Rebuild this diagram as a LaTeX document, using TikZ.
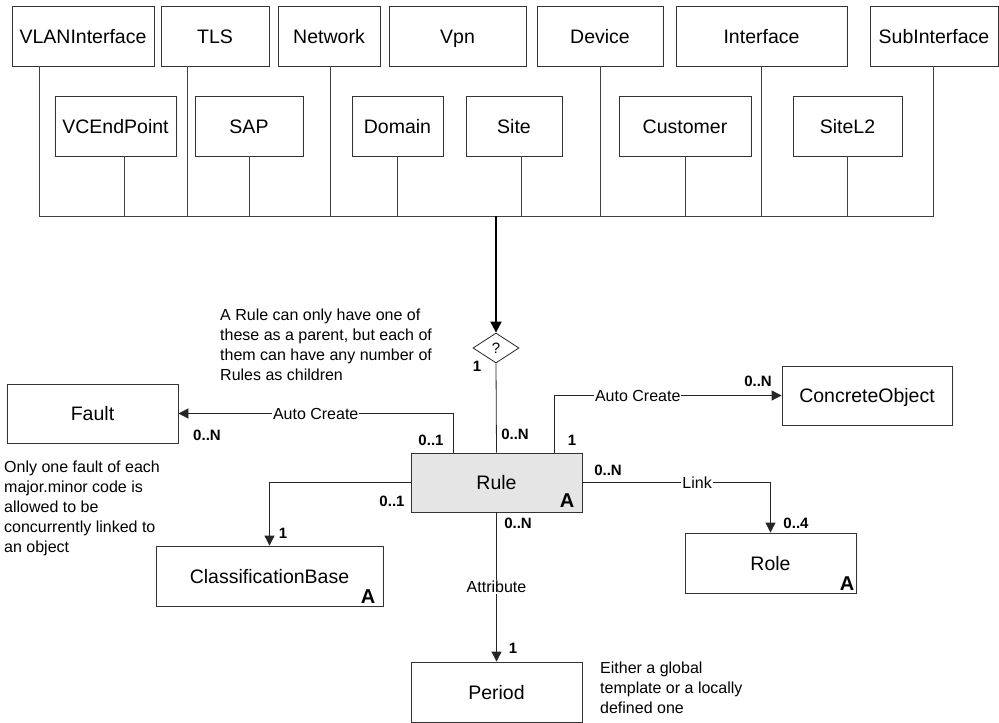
\documentclass[tikz,border=0pt]{standalone}
\usepackage{fontspec}
\setmainfont{Liberation Sans}
\usetikzlibrary{arrows.meta,shapes.geometric}
\begin{document}
\begin{tikzpicture}[x=1pt,y=-1pt,
  box/.style={draw=black!80, line width=0.8pt, inner sep=0pt, minimum height=60pt,
    text height=14pt, text depth=0pt, font=\fontsize{19.5}{23}\selectfont},
  amark/.style={font=\fontsize{20}{24}\selectfont\bfseries, inner sep=0pt, anchor=south east},
  bus/.style={draw=black!75, line width=0.8pt},
  assoc/.style={draw=black!85, line width=0.8pt, -{Triangle[length=10pt,width=10pt]}},
  plain/.style={draw=black!85, line width=0.8pt},
  mult/.style={font=\fontsize{15}{18}\selectfont\bfseries, inner sep=0pt},
  lbl/.style={font=\fontsize{16}{19}\selectfont, fill=white, inner sep=1pt},
  note/.style={font=\fontsize{16}{20}\selectfont, align=left, inner sep=0pt, anchor=north west}
]
\useasboundingbox (0,0) rectangle (999,723);

% parent classes, upper row
\node[box, minimum width=142pt] (vlan)    at (83,36)    {VLANInterface};
\node[box, minimum width=108pt] (tls)     at (215,36)   {TLS};
\node[box, minimum width=102pt] (network) at (329,36)   {Network};
\node[box, minimum width=137pt] (vpn)     at (457.5,36) {Vpn};
\node[box, minimum width=126pt] (device)  at (600,36)   {Device};
\node[box, minimum width=171pt] (iface)   at (761.5,36) {Interface};
\node[box, minimum width=128pt] (subif)   at (934,36)   {SubInterface};

% parent classes, lower row
\node[box, minimum width=121pt] (vcep)     at (115.5,126) {VCEndPoint};
\node[box, minimum width=108pt] (sap)      at (249,126)   {SAP};
\node[box, minimum width=91pt]  (domain)   at (397.5,126) {Domain};
\node[box, minimum width=96pt]  (site)     at (514,126)   {Site};
\node[box, minimum width=132pt] (customer) at (685,126)   {Customer};
\node[box, minimum width=109pt] (sitel2)   at (847.5,126) {SiteL2};

% collecting bus
\coordinate (hub) at (496,216);
\draw[bus] ([xshift=-44pt]vlan.south) |- ([xshift=-1pt]subif.south |- hub) -- ([xshift=-1pt]subif.south);
\draw[bus] ([xshift=-28pt]tls.south) -- ([xshift=-28pt]tls.south |- hub);
\draw[bus] ([xshift=1pt]network.south) -- ([xshift=1pt]network.south |- hub);
\draw[bus] (device.south) -- (device.south |- hub);
\draw[bus] (iface.south) -- (iface.south |- hub);
\draw[bus] ([xshift=8.5pt]vcep.south) -- ([xshift=8.5pt]vcep.south |- hub);
\draw[bus] (sap.south) -- (sap.south |- hub);
\draw[bus] (domain.south) -- (domain.south |- hub);
\draw[bus] ([xshift=7pt]site.south) -- ([xshift=7pt]site.south |- hub);
\draw[bus] (customer.south) -- (customer.south |- hub);
\draw[bus] (sitel2.south) -- (sitel2.south |- hub);

% choice of parent
\node[diamond, draw=black!85, line width=0.8pt, minimum width=46pt, minimum height=30pt,
  inner sep=0pt, font=\fontsize{15}{18}\selectfont] (q) at (496,348) {?};
\draw[line width=2pt, -{Triangle[length=11pt,width=11pt]}] (hub) -- (q.north);

% classes around the rule
\node[box, minimum width=171pt, minimum height=59pt, fill=black!10] (rule) at (496.5,482.5) {Rule};
\node[amark] at ([xshift=-8pt,yshift=5pt]rule.south east) {A};
\node[box, minimum width=171pt, minimum height=59pt] (fault) at (92.5,413.5) {Fault};
\node[box, minimum width=170pt, minimum height=59pt] (concrete) at (867,395.5) {ConcreteObject};
\node[box, minimum width=171pt] (role) at (770.5,563) {Role};
\node[amark] at ([xshift=-2pt,yshift=3pt]role.south east) {A};
\node[box, minimum width=227pt] (cbase) at (269.5,576) {ClassificationBase};
\node[amark] at ([xshift=-8pt,yshift=3pt]cbase.south east) {A};
\node[box, minimum width=171pt] (period) at (496.5,692) {Period};

% associations
\draw[plain] (q.south) -- (rule.north);
\draw[assoc] ([xshift=-43.5pt]rule.north) |- (fault.east) node[lbl, pos=0.75] {Auto Create};
\draw[assoc] ([xshift=57.5pt]rule.north) |- (concrete.west) node[lbl, pos=0.684] {Auto Create};
\draw[assoc] (rule.east) -| (role.north) node[lbl, pos=0.305] {Link};
\draw[assoc] (rule.west) -| (cbase.north);
\draw[assoc] (rule.south) -- (period.north) node[lbl, pos=0.5] {Attribute};

% multiplicities
\node[mult] at (477,366) {1};
\node[mult] at (515,434) {0..N};
\node[mult] at (431,440) {0..1};
\node[mult] at (572,440) {1};
\node[mult] at (207,435) {0..N};
\node[mult] at (758,381) {0..N};
\node[mult] at (608,470) {0..N};
\node[mult] at (796,523) {0..4};
\node[mult] at (392,501) {0..1};
\node[mult] at (283,533) {1};
\node[mult] at (518,523) {0..N};
\node[mult] at (513,648) {1};

% notes
\node[note] (parentnote) at (220,309) {A Rule can only have one of\\these as a parent, but each of\\them can have any number of\\Rules as children};
\node[note] (faultnote) at (4,461) {Only one fault of each\\major.minor code is\\allowed to be\\concurrently linked to\\an object};
\node[note] (periodnote) at (600,662) {Either a global\\template or a locally\\defined one};
\end{tikzpicture}
\end{document}
